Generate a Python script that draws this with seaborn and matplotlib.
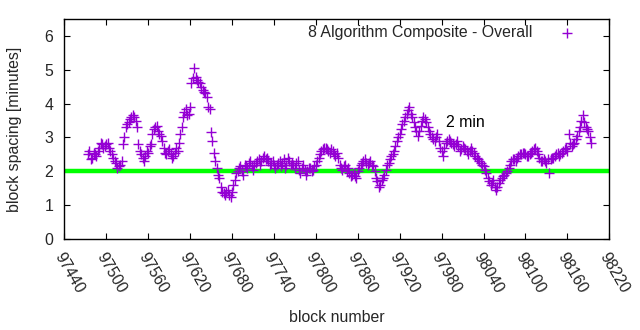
import numpy as np
import pandas as pd
import matplotlib
matplotlib.use("Agg")
import matplotlib.pyplot as plt
import seaborn as sns

# Blocks read every 4 blocks starting at 97474
first_block_a = 97474
spacing_a = [
    2.5, 2.35, 2.55, 2.45, 2.7, 2.8, 2.75, 2.85, 2.6, 2.4,
    2.25, 2.15, 2.3, 3.0, 3.4, 3.55, 3.65, 3.5, 2.8, 2.5,
    2.3, 2.6, 2.75, 3.1, 3.3, 3.2, 3.05, 2.7, 2.5, 2.65,
    2.4, 2.55, 2.6, 3.1, 3.6, 3.85, 3.7, 4.6, 5.05, 4.7,
    4.6, 4.4, 4.3, 3.9, 3.15, 2.55, 2.1, 1.8, 1.4, 1.3,
    1.45, 1.25, 1.6, 1.95, 2.1, 2.0, 2.2, 2.1, 2.3, 2.05,
    2.25, 2.35, 2.3, 2.45, 2.4, 2.2, 2.3, 2.1, 2.25, 2.15,
    2.35, 2.2, 2.3, 2.25, 2.1, 2.3, 1.95, 2.2, 1.9, 2.1,
    2.0, 2.15, 2.3, 2.5, 2.65, 2.7, 2.6, 2.65, 2.5, 2.55,
    2.2, 2.05, 2.2, 2.1, 1.85, 1.95, 1.8, 2.1, 2.25, 2.35,
    2.2, 2.3, 2.15, 1.8, 1.55, 1.75, 1.9, 2.2, 2.35, 2.5,
    2.75, 3.0, 3.25, 3.5, 3.7, 3.9, 3.6, 3.3, 3.05, 3.35,
    3.6, 3.45, 3.2, 3.0, 2.9, 3.1, 2.7, 2.45, 2.85, 2.95,
    2.85, 2.75, 2.9, 2.6, 2.75, 2.65, 2.5, 2.7, 2.55, 2.4,
    2.3, 2.2, 2.05, 1.8, 1.6, 1.75, 1.45, 1.65, 1.8, 1.9,
    2.0, 2.2, 2.35, 2.3, 2.45, 2.5, 2.55, 2.45, 2.5, 2.6,
    2.7, 2.5, 2.3, 2.35, 2.25, 1.95, 2.4, 2.45, 2.55, 2.5,
    2.6, 2.7, 3.1, 2.75, 2.85, 3.05, 3.3, 3.65, 3.3, 3.2,
    2.85,
]
# Interleaved blocks, read every 4 blocks starting at 97476
first_block_b = 97476
spacing_b = [
    2.6, 2.4, 2.5, 2.6, 2.85, 2.7, 2.8, 2.7, 2.5, 2.3,
    2.1, 2.2, 2.8, 3.3, 3.45, 3.6, 3.6, 3.3, 2.6, 2.4,
    2.45, 2.55, 2.8, 3.25, 3.35, 3.1, 2.9, 2.55, 2.6, 2.5,
    2.45, 2.7, 2.85, 3.3, 3.75, 3.65, 3.9, 4.75, 4.8, 4.65,
    4.5, 4.35, 4.2, 3.85, 2.9, 2.3, 1.9, 1.55, 1.35, 1.4,
    1.3, 1.4, 1.75, 2.0, 2.15, 1.9, 2.15, 2.25, 2.15, 2.2,
    2.3, 2.2, 2.4, 2.35, 2.3, 2.25, 2.2, 2.2, 2.3, 2.25,
    2.1, 2.4, 2.2, 2.2, 2.25, 2.05, 2.1, 2.05, 2.0, 2.1,
    2.05, 2.2, 2.4, 2.6, 2.7, 2.65, 2.55, 2.6, 2.45, 2.4,
    2.1, 2.15, 2.0, 1.95, 1.9, 1.85, 2.0, 2.2, 2.3, 2.25,
    2.25, 2.2, 2.0, 1.7, 1.6, 1.8, 2.05, 2.25, 2.45, 2.6,
    2.9, 3.1, 3.4, 3.6, 3.8, 3.7, 3.45, 3.2, 3.2, 3.5,
    3.55, 3.3, 3.1, 2.95, 3.0, 2.9, 2.6, 2.7, 2.9, 2.9,
    2.8, 2.8, 2.75, 2.65, 2.7, 2.6, 2.6, 2.6, 2.45, 2.35,
    2.25, 2.15, 1.95, 1.7, 1.65, 1.55, 1.55, 1.75, 1.85, 1.95,
    2.1, 2.3, 2.35, 2.4, 2.5, 2.55, 2.5, 2.45, 2.55, 2.65,
    2.6, 2.4, 2.3, 2.3, 2.35, 2.35, 2.4, 2.5, 2.45, 2.55,
    2.65, 2.6, 2.85, 2.8, 2.95, 3.2, 3.5, 3.45, 3.25, 3.0,
]
block_step = 4
target_minutes = 2
x_ticks = [97440, 97500, 97560, 97620, 97680, 97740, 97800, 97860,
           97920, 97980, 98040, 98100, 98160, 98220]
y_ticks = [0, 1, 2, 3, 4, 5, 6]
series_label = "8 Algorithm Composite - Overall"

blocks_a = first_block_a + block_step * np.arange(len(spacing_a))
blocks_b = first_block_b + block_step * np.arange(len(spacing_b))
df = pd.DataFrame({
    "block": np.concatenate([blocks_a, blocks_b]),
    "spacing": spacing_a + spacing_b,
}).sort_values("block")

sns.set_theme(style="ticks")
plt.rcParams['font.family'] = ['Liberation Sans', 'DejaVu Sans']
FS = 11.4

fig = plt.figure(figsize=(6.4, 3.3), dpi=100)
ax = fig.add_axes([0.1005, 0.2758, 0.8515, 0.6666])

ax.axhline(target_minutes, color="#00ff00", linewidth=3.2, zorder=1)
sns.scatterplot(data=df, x="block", y="spacing", marker="+", s=50,
                color="#9400d3", linewidth=1.0, ax=ax, zorder=2,
                label=series_label)

ax.text(97987, 3.45, "2 min", fontsize=FS, color="black", va="center", ha="left")

ax.set_xlim(97440, 98220)
ax.set_ylim(0, 6.5)
ax.set_xticks(x_ticks)
ax.set_yticks(y_ticks)
ax.set_xticklabels([str(t) for t in x_ticks], rotation=-60, ha="left",
                   va="top", rotation_mode="anchor", fontsize=FS)
ax.set_yticklabels([str(t) for t in y_ticks], fontsize=FS)
ax.tick_params(direction="in", top=True, right=True, length=4, width=0.8,
               color="black", pad=8)
ax.tick_params(axis="x", pad=8)
for sp in ax.spines.values():
    sp.set_visible(True)
    sp.set_color("black")
    sp.set_linewidth(1.0)

ax.set_xlabel("block number", fontsize=FS, labelpad=10)
ax.set_ylabel("block spacing [minutes]", fontsize=FS, labelpad=16)

leg = ax.legend(loc="upper right", frameon=False, markerfirst=False,
                fontsize=FS, handletextpad=1.2, borderaxespad=0.0,
                bbox_to_anchor=(0.964, 1.0))

fig.savefig("out.png", dpi=100)
